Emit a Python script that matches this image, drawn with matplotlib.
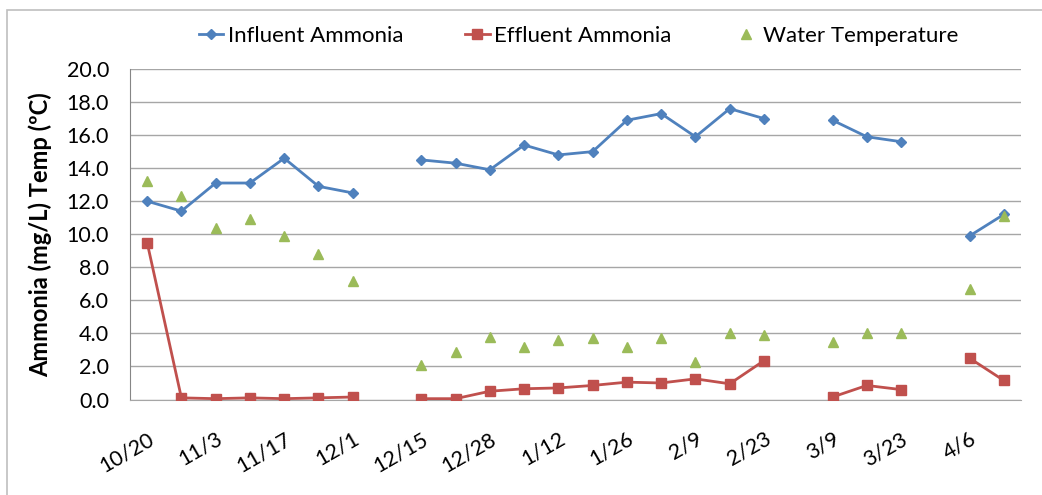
import numpy as np
import matplotlib
matplotlib.use("Agg")
import matplotlib.pyplot as plt
from matplotlib.patches import Rectangle
from matplotlib.transforms import blended_transform_factory

plt.rcParams['font.family'] = ['Lato', 'DejaVu Sans']

categories = ["10/20", "10/27", "11/3", "11/10", "11/17", "11/24", "12/1", "12/8",
              "12/15", "12/22", "12/28", "1/5", "1/12", "1/19", "1/26", "2/2",
              "2/9", "2/16", "2/23", "3/2", "3/9", "3/16", "3/23", "3/30",
              "4/6", "4/13"]
nan = np.nan
influent = [12.0, 11.4, 13.1, 13.1, 14.6, 12.9, 12.5, nan,
            14.5, 14.3, 13.9, 15.4, 14.8, 15.0, 16.9, 17.3,
            15.9, 17.6, 17.0, nan, 16.9, 15.9, 15.6, nan,
            9.9, 11.2]
effluent = [9.5, 0.1, 0.05, 0.1, 0.05, 0.1, 0.15, nan,
            0.05, 0.05, 0.5, 0.65, 0.7, 0.85, 1.05, 1.0,
            1.25, 0.95, 2.35, nan, 0.15, 0.85, 0.6, nan,
            2.5, 1.15]
temperature = [13.2, 12.3, 10.35, 10.95, 9.9, 8.8, 7.15, nan,
               2.1, 2.9, 3.8, 3.2, 3.6, 3.75, 3.2, 3.7,
               2.25, 4.05, 3.9, nan, 3.45, 4.05, 4.0, nan,
               6.7, 11.1]
yticks = [0, 2, 4, 6, 8, 10, 12, 14, 16, 18, 20]

blue = "#4F81BD"
red = "#C0504D"
green = "#9BBB59"

fig = plt.figure(figsize=(10.42, 4.95), dpi=100)
fig.patches.append(Rectangle((7/1042, -0.1), 1.2, 1 - 10/495 + 0.1, transform=fig.transFigure,
                             fill=False, edgecolor="#BFBFBF", linewidth=1.2))
ax = fig.add_axes([130/1042, 1 - 399.5/495, (1021 - 130)/1042, (399.5 - 69)/495])

x = np.arange(len(categories))
ax.plot(x, influent, color=blue, lw=2.0, marker="D", ms=5.5, mfc=blue, mec=blue,
        label="Influent Ammonia", zorder=4)
ax.plot(x, effluent, color=red, lw=2.0, marker="s", ms=7, mfc=red, mec=red,
        label="Effluent Ammonia", zorder=4)
ax.plot(x, temperature, color=green, lw=0, marker="^", ms=7, mfc=green, mec=green,
        label="Water Temperature", zorder=5)

ax.set_xlim(-0.5, len(categories) - 0.5)
ax.set_ylim(0, 20)
ax.set_yticks(yticks)
ax.set_yticklabels([f"{v:.1f}" for v in yticks], fontsize=15.5)
ax.set_xticks(x[::2])
ax.set_xticklabels(categories[::2], rotation=30, ha="right", rotation_mode="anchor",
                   fontsize=15.5)
ax.tick_params(axis="x", length=0, pad=21)
ax.tick_params(axis="y", length=0, pad=15)
ax.grid(axis="y", color="#A6A6A6", lw=1.0)
ax.set_axisbelow(True)
for s in ["top", "right"]:
    ax.spines[s].set_visible(False)
ax.spines["bottom"].set_color("#A6A6A6")
ax.spines["left"].set_color("#868686")

ax.set_ylabel("Ammonia (mg/L) Temp (ºC)", fontsize=17, fontweight="bold")
ax.yaxis.set_label_coords(40/1042, 0.5, transform=blended_transform_factory(fig.transFigure, ax.transAxes))
ax.yaxis.label.set_va("center")

fig.legend(loc="center", bbox_to_anchor=(0.555, 1 - 36/495), ncol=3, frameon=False,
           fontsize=16, handlelength=1.1, columnspacing=2.8, handletextpad=0.2)

fig.savefig("out.png", dpi=100)
